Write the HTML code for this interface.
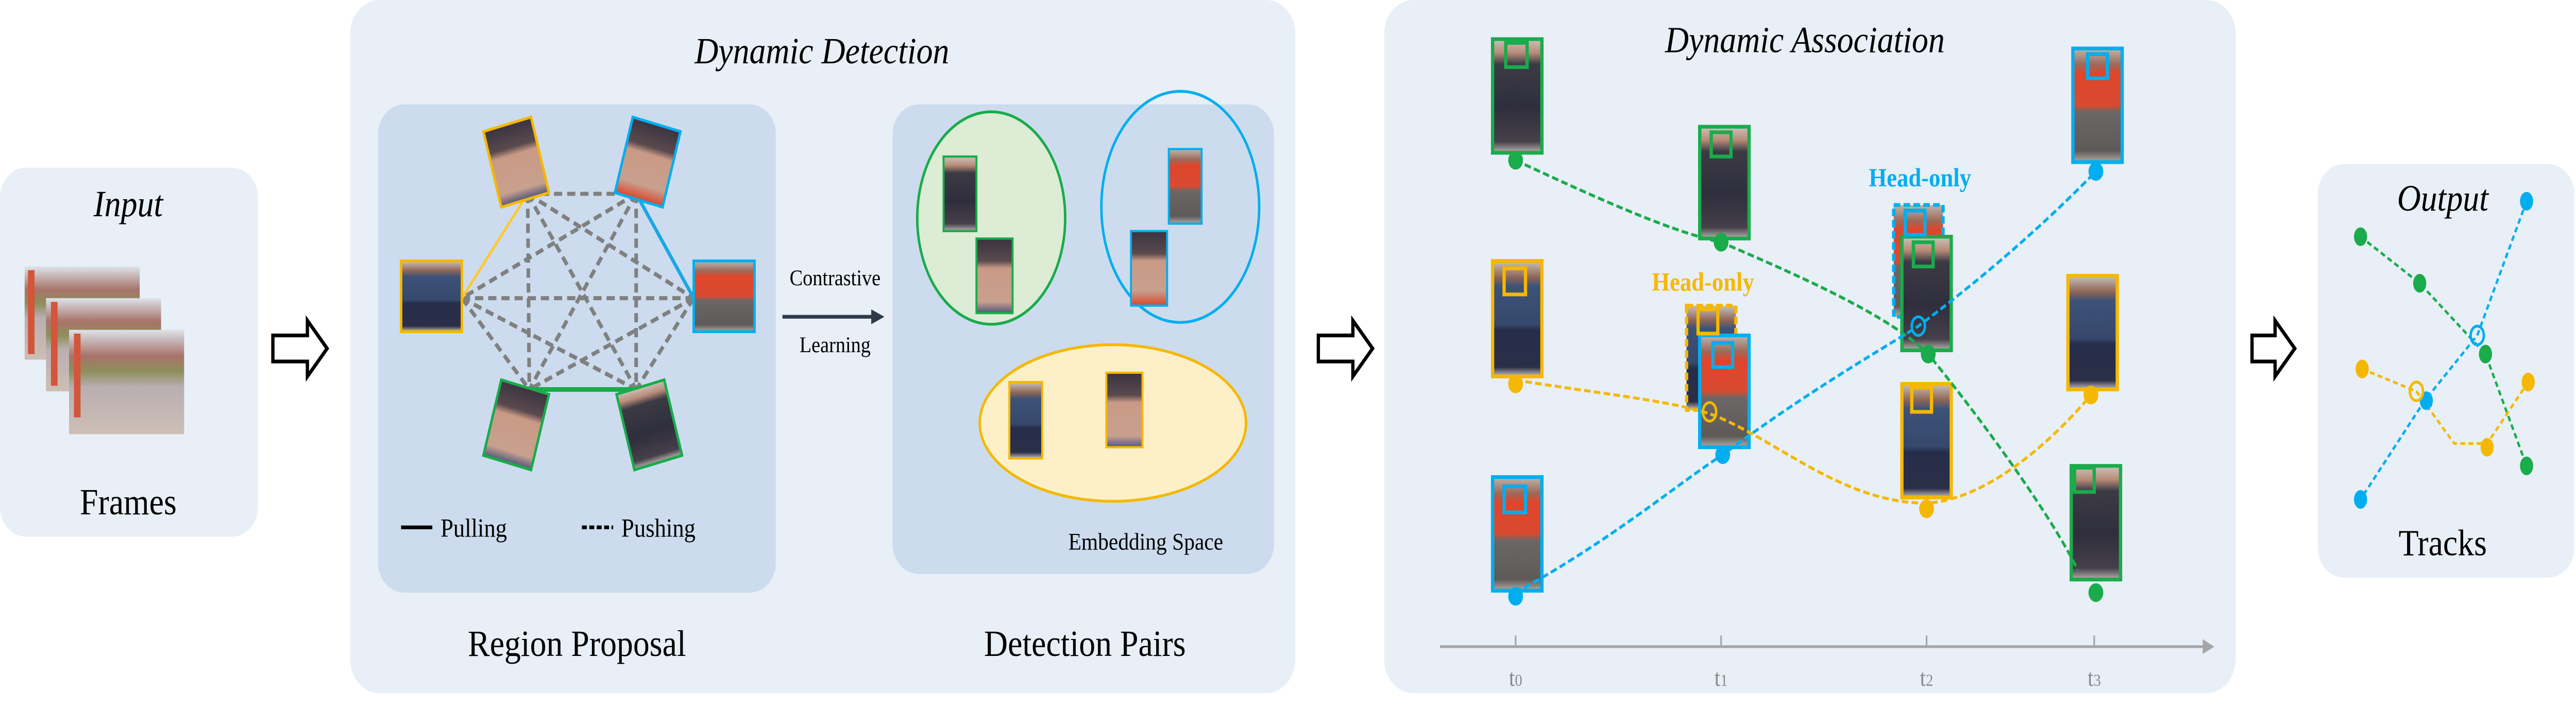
<!DOCTYPE html>
<html><head><meta charset="utf-8"><style>
html,body{margin:0;padding:0;background:#fff;width:5673px;height:1379px;overflow:hidden}
svg{display:block}
text{font-family:"Liberation Serif",serif}
</style></head><body>
<svg width="5673" height="1379" viewBox="0 0 1778 381" preserveAspectRatio="none" xmlns="http://www.w3.org/2000/svg">
<defs>
<linearGradient id="pDark" x1="0" y1="0" x2="0" y2="1">
<stop offset="0" stop-color="#c9c3bd"/><stop offset="0.12" stop-color="#b98b77"/><stop offset="0.22" stop-color="#3b3b45"/><stop offset="0.6" stop-color="#2f2e3c"/><stop offset="0.9" stop-color="#45404a"/><stop offset="1" stop-color="#b8b3ad"/></linearGradient>
<linearGradient id="pRed" x1="0" y1="0" x2="0" y2="1">
<stop offset="0" stop-color="#bfb6ac"/><stop offset="0.14" stop-color="#9c6a5a"/><stop offset="0.22" stop-color="#e0452b"/><stop offset="0.5" stop-color="#d84a30"/><stop offset="0.56" stop-color="#6b6766"/><stop offset="0.9" stop-color="#5e5a5a"/><stop offset="1" stop-color="#b3aaa2"/></linearGradient>
<linearGradient id="pBlue" x1="0" y1="0" x2="0" y2="1">
<stop offset="0" stop-color="#c8c2bb"/><stop offset="0.14" stop-color="#8f6656"/><stop offset="0.22" stop-color="#3d5278"/><stop offset="0.55" stop-color="#36486c"/><stop offset="0.6" stop-color="#262d4a"/><stop offset="0.92" stop-color="#2b2f48"/><stop offset="1" stop-color="#c8c3bd"/></linearGradient>
<linearGradient id="face" x1="0" y1="0" x2="0" y2="1">
<stop offset="0" stop-color="#3a3340"/><stop offset="0.3" stop-color="#5a4a4e"/><stop offset="0.4" stop-color="#c99a86"/><stop offset="0.85" stop-color="#c8a08e"/><stop offset="1" stop-color="#50567a"/></linearGradient>
<linearGradient id="faceR" x1="0" y1="0" x2="0" y2="1">
<stop offset="0" stop-color="#3a3340"/><stop offset="0.3" stop-color="#5a4a4e"/><stop offset="0.4" stop-color="#c99a86"/><stop offset="0.8" stop-color="#c8a08e"/><stop offset="1" stop-color="#d9452a"/></linearGradient>
<linearGradient id="frame" x1="0" y1="0" x2="0" y2="1">
<stop offset="0" stop-color="#dde3ea"/><stop offset="0.25" stop-color="#a8736a"/><stop offset="0.4" stop-color="#8d8f5c"/><stop offset="0.55" stop-color="#b9afb2"/><stop offset="1" stop-color="#cdbfb5"/></linearGradient>
</defs>

<rect x="0" y="90" width="157" height="198" rx="16" fill="#e8eff7"/>
<text x="78" y="116" font-size="20" font-style="italic" text-anchor="middle">Input</text>
<rect x="15" y="143" width="70" height="50" fill="url(#frame)"/>
<rect x="28" y="160" width="70" height="50" fill="url(#frame)"/>
<rect x="42" y="177" width="70" height="56" fill="url(#frame)"/>
<rect x="17" y="145" width="4" height="45" fill="#d3553a"/>
<rect x="31" y="162" width="4" height="45" fill="#d3553a"/>
<rect x="45" y="179" width="4" height="45" fill="#d3553a"/>
<text x="78" y="276" font-size="20" text-anchor="middle">Frames</text>

<g fill="#fff" stroke="#000" stroke-width="2">
<path d="M166,180 H187 V172 L199,187 L187,202 V194 H166 Z"/>
<path d="M802,180 H823 V172 L835,187 L823,202 V194 H802 Z"/>
<path d="M1370,180 H1384 V172 L1396,187 L1384,202 V194 H1370 Z"/>
</g>

<rect x="213" y="0" width="575" height="372" rx="18" fill="#e8eff7"/>
<text x="500" y="34" font-size="20" font-style="italic" text-anchor="middle">Dynamic Detection</text>
<rect x="230" y="56" width="242" height="262" rx="16" fill="#ccdcee"/>
<rect x="543" y="56" width="232" height="252" rx="16" fill="#ccdcee"/>
<text x="351" y="352" font-size="20" text-anchor="middle">Region Proposal</text>
<text x="660" y="352" font-size="20" text-anchor="middle">Detection Pairs</text>

<g stroke="#808080" stroke-width="2.2" stroke-dasharray="5,3" fill="none">
<line x1="321" y1="104" x2="387" y2="104"/>
<line x1="321" y1="104" x2="422" y2="160"/>
<line x1="321" y1="104" x2="322" y2="209"/>
<line x1="321" y1="104" x2="387" y2="209"/>
<line x1="387" y1="104" x2="281" y2="160"/>
<line x1="387" y1="104" x2="322" y2="209"/>
<line x1="387" y1="104" x2="387" y2="209"/>
<line x1="281" y1="160" x2="422" y2="160"/>
<line x1="281" y1="160" x2="322" y2="209"/>
<line x1="281" y1="160" x2="387" y2="209"/>
<line x1="422" y1="160" x2="322" y2="209"/>
<line x1="422" y1="160" x2="387" y2="209"/>
</g>
<line x1="281" y1="160" x2="321" y2="104" stroke="#fdc832" stroke-width="1.5"/>
<line x1="387" y1="104" x2="422" y2="160" stroke="#1aa7e6" stroke-width="2"/>
<line x1="322" y1="209" x2="387" y2="209" stroke="#1aab4b" stroke-width="2.5"/>

<rect x="244" y="140" width="37" height="38" fill="url(#pBlue)" stroke="#f5b800" stroke-width="1.5"/>
<rect x="422" y="140" width="37" height="38" fill="url(#pRed)" stroke="#00aeef" stroke-width="1.5"/>
<g transform="translate(314,87) rotate(-15)"><rect x="-15" y="-21" width="30" height="42" fill="url(#face)" stroke="#f5b800" stroke-width="1.5"/></g>
<g transform="translate(394,87) rotate(15)"><rect x="-15" y="-21" width="30" height="42" fill="url(#faceR)" stroke="#00aeef" stroke-width="1.5"/></g>
<g transform="translate(314,228) rotate(15)"><rect x="-15" y="-21" width="30" height="42" fill="url(#face)" stroke="#1aab4b" stroke-width="1.5"/></g>
<g transform="translate(395,228) rotate(-15)"><rect x="-15" y="-21" width="30" height="42" fill="url(#pDark)" stroke="#1aab4b" stroke-width="1.5"/></g>

<line x1="244" y1="283" x2="263" y2="283" stroke="#000" stroke-width="2"/>
<text x="268" y="288" font-size="14">Pulling</text>
<line x1="354" y1="283" x2="373" y2="283" stroke="#000" stroke-width="2" stroke-dasharray="3,1.5"/>
<text x="378" y="288" font-size="14">Pushing</text>

<text x="508" y="153" font-size="12" text-anchor="middle">Contrastive</text>
<line x1="476" y1="170" x2="532" y2="170" stroke="#2d3a4a" stroke-width="2"/>
<path d="M530,166 L538,170 L530,174 Z" fill="#2d3a4a"/>
<text x="508" y="189" font-size="12" text-anchor="middle">Learning</text>

<ellipse cx="603" cy="117" rx="45" ry="57" fill="#dcecd5" stroke="#1aab4b" stroke-width="1.5"/>
<ellipse cx="718" cy="111" rx="48" ry="62" fill="none" stroke="#00aeef" stroke-width="1.5"/>
<ellipse cx="677" cy="227" rx="81" ry="42" fill="#fdf0c8" stroke="#f5b800" stroke-width="1.5"/>
<rect x="574" y="84" width="20" height="40" fill="url(#pDark)" stroke="#1aab4b" stroke-width="1.2"/>
<rect x="594" y="128" width="22" height="40" fill="url(#face)" stroke="#1aab4b" stroke-width="1.2"/>
<rect x="711" y="80" width="20" height="40" fill="url(#pRed)" stroke="#00aeef" stroke-width="1.2"/>
<rect x="688" y="124" width="22" height="40" fill="url(#faceR)" stroke="#00aeef" stroke-width="1.2"/>
<rect x="614" y="205" width="20" height="41" fill="url(#pBlue)" stroke="#f5b800" stroke-width="1.2"/>
<rect x="673" y="200" width="22" height="40" fill="url(#face)" stroke="#f5b800" stroke-width="1.2"/>
<text x="697" y="295" font-size="13" text-anchor="middle">Embedding Space</text>

<rect x="842" y="0" width="518" height="372" rx="18" fill="#e8eff7"/>
<text x="1098" y="28" font-size="20" font-style="italic" text-anchor="middle">Dynamic Association</text>

<line x1="876" y1="347" x2="1342" y2="347" stroke="#a6a6a6" stroke-width="1.5"/>
<path d="M1340,343 L1347,347 L1340,351 Z" fill="#a6a6a6"/>
<g stroke="#a6a6a6" stroke-width="1"><line x1="922" y1="341" x2="922" y2="347"/><line x1="1047" y1="341" x2="1047" y2="347"/><line x1="1172" y1="341" x2="1172" y2="347"/><line x1="1274" y1="341" x2="1274" y2="347"/></g>
<g fill="#8a8a8a" font-size="13" text-anchor="middle"><text x="922" y="368">t<tspan font-size="9">0</tspan></text><text x="1047" y="368">t<tspan font-size="9">1</tspan></text><text x="1172" y="368">t<tspan font-size="9">2</tspan></text><text x="1274" y="368">t<tspan font-size="9">3</tspan></text></g>

<g stroke-width="2">
<rect x="908" y="21" width="30" height="61" fill="url(#pDark)" stroke="#1aab4b"/>
<rect x="908" y="140" width="30" height="62" fill="url(#pBlue)" stroke="#f5b800"/>
<rect x="908" y="256" width="30" height="61" fill="url(#pRed)" stroke="#00aeef"/>
<rect x="1034" y="68" width="30" height="60" fill="url(#pDark)" stroke="#1aab4b"/>
<rect x="1026" y="164" width="30" height="56" fill="url(#pBlue)" stroke="#f5b800" stroke-dasharray="4,2"/>
<rect x="1034" y="180" width="30" height="60" fill="url(#pRed)" stroke="#00aeef"/>
<rect x="1152" y="110" width="30" height="60" fill="url(#pRed)" stroke="#00aeef" stroke-dasharray="4,2"/>
<rect x="1157" y="127" width="30" height="61" fill="url(#pDark)" stroke="#1aab4b"/>
<rect x="1157" y="206" width="30" height="61" fill="url(#pBlue)" stroke="#f5b800"/>
<rect x="1261" y="26" width="30" height="61" fill="url(#pRed)" stroke="#00aeef"/>
<rect x="1258" y="148" width="30" height="61" fill="url(#pBlue)" stroke="#f5b800"/>
<rect x="1260" y="250" width="30" height="61" fill="url(#pDark)" stroke="#1aab4b"/>
</g>
<g fill="none" stroke-width="2">
<rect x="916" y="23" width="13" height="13" stroke="#1aab4b"/>
<rect x="915" y="144" width="13" height="14" stroke="#f5b800"/>
<rect x="915" y="261" width="13" height="14" stroke="#00aeef"/>
<rect x="1041" y="71" width="12" height="13" stroke="#1aab4b"/>
<rect x="1033" y="166" width="12" height="13" stroke="#f5b800"/>
<rect x="1042" y="184" width="12" height="13" stroke="#00aeef"/>
<rect x="1159" y="113" width="12" height="13" stroke="#00aeef"/>
<rect x="1164" y="130" width="12" height="13" stroke="#1aab4b"/>
<rect x="1163" y="208" width="12" height="13" stroke="#f5b800"/>
<rect x="1270" y="29" width="12" height="13" stroke="#00aeef"/>
<rect x="1262" y="251" width="12" height="13" stroke="#1aab4b"/>
</g>
<text x="1036" y="156" font-size="14" font-weight="bold" fill="#f5b800" text-anchor="middle">Head-only</text>
<text x="1168" y="100" font-size="14" font-weight="bold" fill="#00aeef" text-anchor="middle">Head-only</text>

<g fill="none" stroke-width="1.6" stroke-dasharray="4,2">
<path d="M922,86 C980,110 1020,125 1047,130 C1100,150 1150,170 1173,190 C1210,230 1250,280 1264,306" stroke="#1aab4b"/>
<path d="M922,318 C980,290 1020,260 1048,244 C1100,210 1140,190 1167,175 C1220,140 1255,110 1275,92" stroke="#00aeef"/>
<path d="M922,204 C980,212 1015,215 1040,222 C1080,235 1120,270 1172,270 C1210,268 1250,235 1272,212" stroke="#f5b800"/>
</g>
<g>
<ellipse cx="922" cy="86" rx="4.5" ry="5" fill="#1aab4b"/>
<ellipse cx="1047" cy="130" rx="4.5" ry="5" fill="#1aab4b"/>
<ellipse cx="1173" cy="190" rx="4.5" ry="5" fill="#1aab4b"/>
<ellipse cx="1275" cy="318" rx="4.5" ry="5" fill="#1aab4b"/>
<ellipse cx="922" cy="320" rx="4.5" ry="5" fill="#00aeef"/>
<ellipse cx="1048" cy="244" rx="4.5" ry="5" fill="#00aeef"/>
<ellipse cx="1275" cy="92" rx="4.5" ry="5" fill="#00aeef"/>
<ellipse cx="922" cy="206" rx="4.5" ry="5" fill="#f5b800"/>
<ellipse cx="1172" cy="273" rx="4.5" ry="5" fill="#f5b800"/>
<ellipse cx="1272" cy="212" rx="4.5" ry="5" fill="#f5b800"/>
<ellipse cx="1040" cy="221" rx="4" ry="5" fill="none" stroke="#f5b800" stroke-width="1.5"/>
<ellipse cx="1167" cy="175" rx="4" ry="5" fill="none" stroke="#00aeef" stroke-width="1.5"/>
</g>

<rect x="1410" y="88" width="156" height="222" rx="16" fill="#e8eff7"/>
<text x="1486" y="113" font-size="20" font-style="italic" text-anchor="middle">Output</text>
<text x="1486" y="298" font-size="20" text-anchor="middle">Tracks</text>
<g fill="none" stroke-width="1.4" stroke-dasharray="3,2">
<polyline points="1436,127 1472,152 1512,190 1537,250" stroke="#1aab4b"/>
<polyline points="1537,108 1507,180 1475,215 1436,268" stroke="#00aeef"/>
<polyline points="1437,198 1470,210 1493,238 1513,238 1538,205" stroke="#f5b800"/>
</g>
<g>
<ellipse cx="1436" cy="127" rx="4" ry="5" fill="#1aab4b"/>
<ellipse cx="1472" cy="152" rx="4" ry="5" fill="#1aab4b"/>
<ellipse cx="1512" cy="190" rx="4" ry="5" fill="#1aab4b"/>
<ellipse cx="1537" cy="250" rx="4" ry="5" fill="#1aab4b"/>
<ellipse cx="1537" cy="108" rx="4" ry="5" fill="#00aeef"/>
<ellipse cx="1507" cy="180" rx="4" ry="5" fill="none" stroke="#00aeef" stroke-width="1.5"/>
<ellipse cx="1476" cy="215" rx="4" ry="5" fill="#00aeef"/>
<ellipse cx="1436" cy="268" rx="4" ry="5" fill="#00aeef"/>
<ellipse cx="1437" cy="198" rx="4" ry="5" fill="#f5b800"/>
<ellipse cx="1470" cy="210" rx="4" ry="5" fill="none" stroke="#f5b800" stroke-width="1.5"/>
<ellipse cx="1513" cy="240" rx="4" ry="5" fill="#f5b800"/>
<ellipse cx="1538" cy="205" rx="4" ry="5" fill="#f5b800"/>
</g>
</svg>
</body></html>
